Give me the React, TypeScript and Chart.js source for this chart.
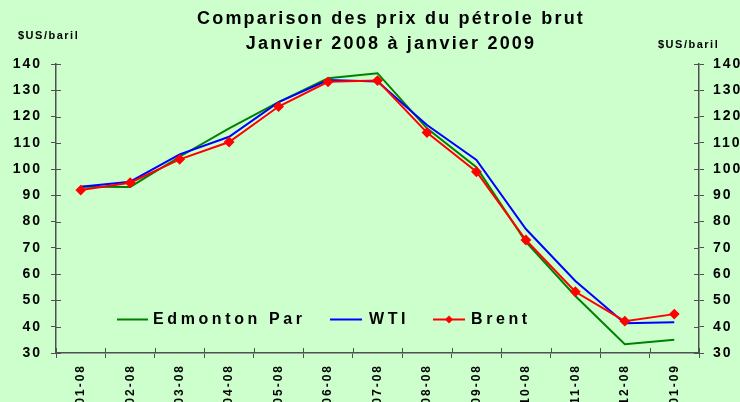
import { useEffect, useRef } from 'react';
import { Chart, registerables } from 'chart.js';
Chart.register(...registerables);

const FONT = '"Liberation Sans", Arial, Helvetica, sans-serif';

const categories = ['01-08', '02-08', '03-08', '04-08', '05-08', '06-08', '07-08', '08-08', '09-08', '10-08', '11-08', '12-08', '01-09'];
const edmonton = [93.3, 93.2, 104.7, 115.5, 125.5, 134.6, 136.5, 115.5, 100.7, 72.3, 51.7, 33.3, 35.0];
const wti = [93.3, 95.2, 105.6, 112.3, 125.5, 133.9, 133.3, 116.8, 103.5, 77.2, 57.4, 41.3, 41.7];
const brent = [92.0, 94.8, 103.7, 110.3, 123.8, 133.2, 133.7, 113.9, 99.0, 73.0, 53.3, 42.1, 44.8];

const titleLines = ['Comparison des prix du pétrole brut', 'Janvier 2008 à janvier 2009'];
const axisTitle = '$US/baril';
const seriesNames = ['Edmonton Par', 'WTI', 'Brent'];
const seriesColors = ['#008000', '#0000FF', '#FF0000'];

const AXIS = '#505050';

export default function App() {
  const ref = useRef<HTMLCanvasElement>(null);
  useEffect(() => {
    const canvas = ref.current!;
    const deco = {
      id: 'deco',
      beforeDraw(chart: any) {
        chart.ctx.letterSpacing = '2px';
      },
      afterDraw(chart: any) {
        const ctx = chart.ctx as any;
        const ca = chart.chartArea;
        const y = chart.scales.y;
        const x = chart.scales.x;
        ctx.save();
        // inner parts of the crossing ticks
        ctx.strokeStyle = AXIS;
        ctx.lineWidth = 1;
        ctx.beginPath();
        for (let v = 30; v <= 140; v += 10) {
          const py = Math.round(y.getPixelForValue(v)) + 0.5;
          ctx.moveTo(ca.left, py); ctx.lineTo(ca.left + 5, py);
          ctx.moveTo(ca.right, py); ctx.lineTo(ca.right - 5, py);
        }
        const n = categories.length;
        for (let i = 0; i <= n; i++) {
          let px: number;
          if (i === 0) px = ca.left;
          else if (i === n) px = ca.right;
          else px = (x.getPixelForValue(i - 1) + x.getPixelForValue(i)) / 2;
          px = Math.round(px) + 0.5;
          ctx.moveTo(px, ca.bottom); ctx.lineTo(px, ca.bottom - 5);
        }
        ctx.stroke();

        ctx.fillStyle = '#000';
        // title
        ctx.letterSpacing = '2.2px';
        ctx.font = `bold 18px ${FONT}`;
        ctx.textAlign = 'center';
        ctx.textBaseline = 'alphabetic';
        ctx.fillText(titleLines[0], 391, 24);
        ctx.fillText(titleLines[1], 391, 49);

        // axis titles
        ctx.letterSpacing = '1.5px';
        ctx.font = `bold 11px ${FONT}`;
        ctx.textAlign = 'left';
        ctx.fillText(axisTitle, 18, 39);
        ctx.fillText(axisTitle, 658, 48);

        // legend
        ctx.letterSpacing = '3.6px';
        ctx.font = `bold 16px ${FONT}`;
        ctx.textBaseline = 'middle';
        const ly = 319.5;
        const items = [
          { x0: 117, x1: 148, tx: 153 },
          { x0: 330, x1: 362, tx: 369 },
          { x0: 433, x1: 465, tx: 471 },
        ];
        items.forEach((it, i) => {
          ctx.strokeStyle = seriesColors[i];
          ctx.lineWidth = 2;
          ctx.beginPath();
          ctx.moveTo(it.x0, ly); ctx.lineTo(it.x1, ly);
          ctx.stroke();
          if (i === 2) {
            const cx = (it.x0 + it.x1) / 2;
            ctx.fillStyle = seriesColors[i];
            ctx.beginPath();
            ctx.moveTo(cx, ly - 4); ctx.lineTo(cx + 4, ly); ctx.lineTo(cx, ly + 4); ctx.lineTo(cx - 4, ly);
            ctx.closePath();
            ctx.fill();
          }
          ctx.fillStyle = '#000';
          ctx.fillText(seriesNames[i], it.tx, ly + 0.5);
        });
        ctx.restore();
      },
    };

    const tickFont = { family: FONT, size: 14, weight: 'bold' as const };
    const chart = new Chart(canvas, {
      type: 'line',
      data: {
        labels: categories,
        datasets: [
          { label: seriesNames[0], data: edmonton, borderColor: seriesColors[0], backgroundColor: seriesColors[0], borderWidth: 2, pointRadius: 0, tension: 0, order: 3 },
          { label: seriesNames[1], data: wti, borderColor: seriesColors[1], backgroundColor: seriesColors[1], borderWidth: 2, pointRadius: 0, tension: 0, order: 2 },
          { label: seriesNames[2], data: brent, borderColor: seriesColors[2], backgroundColor: seriesColors[2], borderWidth: 2, pointRadius: 4, pointStyle: 'rectRot', tension: 0, order: 1 },
        ],
      },
      options: {
        responsive: false,
        animation: false,
        layout: { padding: { top: 64, left: 0, right: 0, bottom: 0 } },
        plugins: { legend: { display: false }, title: { display: false }, tooltip: { enabled: false } },
        scales: {
          x: {
            type: 'category',
            offset: true,
            grid: { offset: true, drawOnChartArea: false, color: AXIS, tickLength: 5 },
            border: { color: AXIS, width: 1.5 },
            ticks: { minRotation: 90, maxRotation: 90, autoSkip: false, color: '#000', padding: 6, font: { family: FONT, size: 12, weight: 'bold' } },
            afterFit: (s: any) => { s.height = 49; },
          },
          y: {
            position: 'left',
            min: 30, max: 140,
            grid: { drawOnChartArea: false, color: AXIS, tickLength: 5 },
            border: { color: AXIS, width: 1.5 },
            ticks: { stepSize: 10, color: '#000', padding: 9, font: tickFont },
            afterFit: (s: any) => { s.width = 56; },
          },
          y2: {
            position: 'right',
            display: true,
            min: 30, max: 140,
            grid: { drawOnChartArea: false, color: AXIS, tickLength: 5 },
            border: { color: AXIS, width: 1.5 },
            ticks: { stepSize: 10, color: '#000', padding: 9, font: tickFont },
            afterFit: (s: any) => { s.width = 41; },
          },
        },
      },
      plugins: [deco],
    });
    return () => chart.destroy();
  }, []);
  return (
    <div style={{ position: 'fixed', left: 0, top: 0, width: 740, height: 402, background: '#CCFFCC', overflow: 'hidden' }}>
      <canvas ref={ref} width={740} height={402} style={{ display: 'block' }} />
    </div>
  );
}
